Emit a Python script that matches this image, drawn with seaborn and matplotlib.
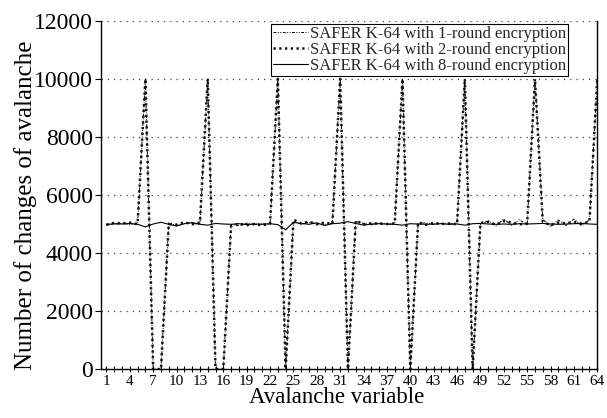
import numpy as np
import pandas as pd
import matplotlib
matplotlib.use("Agg")
import matplotlib.pyplot as plt
import seaborn as sns

# ---- data ----
avalanche_var = list(range(1, 65))

round1 = [5000, 4990, 5030, 4980, 5010, 10000, 0, 0,
          5040, 4950, 5020, 5030, 4980, 10000, 0, 0,
          4990, 4940, 5030, 4980, 5010, 4990, 10000, 0,
          5080, 4990, 5060, 5010, 4980, 5030, 10000, 0,
          5090, 5020, 4970, 5040, 4990, 5010, 10000, 0,
          5010, 5040, 4980, 5020, 5000, 5030, 10000, 0,
          4980, 5120, 4930, 5180, 4950, 5150, 4970, 10000,
          5160, 4920, 5140, 4950, 5170, 4940, 5150, 10000]

round2 = [4970, 5040, 5020, 5050, 5000, 10000, 0, 0,
          5000, 4980, 5060, 4990, 5050, 10000, 0, 0,
          4930, 5010, 4960, 5000, 4950, 5020, 10000, 0,
          5150, 5020, 5080, 4990, 5050, 5000, 10000, 0,
          5120, 4990, 5030, 5010, 5000, 5020, 10000, 0,
          5060, 4970, 5040, 5000, 5020, 4990, 10000, 0,
          5040, 5070, 4980, 5100, 5050, 4990, 5020, 10000,
          5080, 4960, 5050, 5020, 5070, 5010, 5080, 10000]

round8 = [4980, 5010, 5000, 5020, 4990, 4900, 5000, 5060,
          4990, 4930, 5010, 5050, 4990, 4960, 5020, 5000,
          4990, 5010, 4980, 5000, 4990, 5010, 4980, 4800,
          5060, 5020, 4990, 5040, 4950, 5010, 5030, 5080,
          5020, 4960, 5000, 5010, 5000, 4990, 4960, 5010,
          5000, 4990, 5000, 5010, 4990, 5000, 4960, 5010,
          5020, 5000, 4990, 5000, 4990, 5010, 5000, 5010,
          5020, 5000, 4990, 5000, 5010, 5020, 5000, 4990]

labels = ["SAFER K-64 with 1-round encryption",
          "SAFER K-64 with 2-round encryption",
          "SAFER K-64 with 8-round encryption"]

y_ticks = [0, 2000, 4000, 6000, 8000, 10000, 12000]
x_ticklabel_step = 3

# ---- style ----
sns.set_theme(style="white")
plt.rcParams["font.family"] = ["Liberation Serif", "DejaVu Serif"]

fig, ax = plt.subplots(figsize=(6.07, 4.18), dpi=100)
fig.subplots_adjust(left=0.167, right=0.984, bottom=0.117, top=0.950)

sns.lineplot(x=avalanche_var, y=round1, ax=ax, color="black",
             linewidth=0.7, linestyle=(0, (3, 1.5, 1, 1.5, 1, 1.5)),
             label=labels[0], errorbar=None)
sns.lineplot(x=avalanche_var, y=round2, ax=ax, color="#111111",
             linewidth=1.8, linestyle=(0, (0.9, 1.4)),
             label=labels[1], errorbar=None)
sns.lineplot(x=avalanche_var, y=round8, ax=ax, color="black",
             linewidth=0.8, linestyle="-",
             label=labels[2], errorbar=None)

ax.set_xlim(0.35, 64.0)
ax.set_ylim(0, 12000)

ax.set_xticks(avalanche_var)
ax.set_xticklabels([str(v) if (v - 1) % x_ticklabel_step == 0 else ""
                    for v in avalanche_var])
ax.set_yticks(y_ticks)
ax.set_yticklabels([str(v) for v in y_ticks])

ax.tick_params(axis="x", direction="inout", length=5, width=0.8,
               labelsize=11, pad=1.5, colors="black", bottom=True)
ax.tick_params(axis="y", direction="out", length=4, width=0.8,
               labelsize=17, pad=2, colors="black", left=True)

ax.yaxis.grid(True, linestyle=(0, (1, 4)), color="0.25", linewidth=0.9)
ax.xaxis.grid(False)

for side in ["left", "bottom", "right"]:
    ax.spines[side].set_visible(True)
    ax.spines[side].set_color("black")
    ax.spines[side].set_linewidth(1.0)
ax.spines["top"].set_visible(False)

ax.set_xlabel("Avalanche variable", fontsize=16.5, color="black")
ax.set_ylabel("Number of changes of avalanche", fontsize=18, color="black")
ax.xaxis.set_label_coords(0.475, -0.05)
ax.yaxis.set_label_coords(-0.13, 0.47)

leg = ax.legend(loc="upper right", bbox_to_anchor=(0.94, 0.99),
                borderaxespad=0, fontsize=12, frameon=True, fancybox=False,
                framealpha=1, edgecolor="black", handlelength=2.1,
                handletextpad=0.1, labelspacing=0.0, borderpad=0.1)
leg.get_frame().set_linewidth(0.8)

fig.savefig("out.png", dpi=100)
